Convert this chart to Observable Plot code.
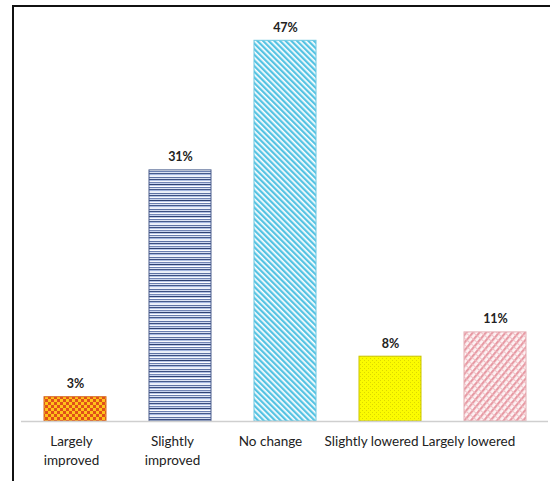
<!DOCTYPE html>
<html>
<head>
<meta charset="utf-8">
<script src="https://cdn.jsdelivr.net/npm/d3@7"></script>
<script src="https://cdn.jsdelivr.net/npm/@observablehq/plot@0.6"></script>
<style>
  html, body { margin: 0; padding: 0; background: #fff; }
  #wrap { position: relative; width: 550px; height: 481px; overflow: hidden; }
  #frame { position: absolute; left: 12px; top: 5px; width: 600px; height: 600px;
           border-left: 2px solid #111; border-top: 2px solid #111; pointer-events: none; }
</style>
</head>
<body>
<div id="wrap"><div id="frame"></div></div>
<script>
const categories = ["Largely improved", "Slightly improved", "No change", "Slightly lowered", "Largely lowered"];
const tickLabels = ["Largely\nimproved", "Slightly\nimproved", "No change", "Slightly lowered", "Largely lowered"];
const values = [3, 31, 47, 8, 11];
const patternIds = ["p-check", "p-hstripe", "p-diag", "p-dots", "p-trellis"];
const outlineColors = ["#d9661e", "#4a5d8c", "#6cc8e2", "#c9c400", "#e6b0b6"];
// the reference's category labels sit a little left of their bars
const labelShift = [-4, -8, -15, -19, -27];

const data = categories.map((c, i) => ({
  category: c, value: values[i], fill: `url(#${patternIds[i]})`, stroke: outlineColors[i]
}));

const font = "Lato, 'Open Sans', sans-serif";

const chart = Plot.plot({
  width: 550,
  height: 481,
  marginLeft: 21,
  marginRight: 2,
  marginTop: 16,
  marginBottom: 60,
  style: { fontFamily: font, background: "transparent", overflow: "visible" },
  x: { domain: categories, paddingInner: 0.41, paddingOuter: 0.2, label: null },
  y: { domain: [0, 50], axis: null },
  marks: [
    Plot.barY(data, { x: "category", y: "value", fill: "fill", stroke: "stroke", strokeWidth: 1 }),
    Plot.ruleY([0], { stroke: "#cfcfcf", strokeWidth: 1.5 }),
    Plot.text(data, { x: "category", y: "value", text: d => d.value + "%", dy: -13,
      fontSize: 12.5, fontWeight: "bold", fill: "#222" }),
    Plot.axisX({ tickSize: 0, tickPadding: 12, fontSize: 13.5, lineHeight: 1.35,
      tickFormat: d => tickLabels[categories.indexOf(d)], label: null, fill: "#222", textAnchor: "middle",
      className: "xlabels" })
  ]
});

const svg = d3.select(chart);
// nudge category labels as in the reference
svg.selectAll("[aria-label='x-axis tick label'] text").each(function (d, i) {
  const t = d3.select(this);
  const tr = t.attr("transform") || "";
  t.attr("transform", tr + ` translate(${labelShift[i] || 0},0)`);
});

const defs = svg.insert("defs", ":first-child");

// checker pattern: red-orange and yellow
const p1 = defs.append("pattern").attr("id", "p-check").attr("patternUnits", "userSpaceOnUse")
  .attr("width", 6).attr("height", 6);
p1.append("rect").attr("width", 6).attr("height", 6).attr("fill", "#ffc21a");
p1.append("rect").attr("x", 0).attr("y", 0).attr("width", 3).attr("height", 3).attr("fill", "#e0501a");
p1.append("rect").attr("x", 3).attr("y", 3).attr("width", 3).attr("height", 3).attr("fill", "#e0501a");

// horizontal blue stripes of varying shades
const p2 = defs.append("pattern").attr("id", "p-hstripe").attr("patternUnits", "userSpaceOnUse")
  .attr("width", 8).attr("height", 16);
[["#eef2fa", 0, 1], ["#5c71a3", 1, 1], ["#d4ddf1", 2, 1], ["#3c4f80", 3, 1],
 ["#aebfe2", 4, 1], ["#f6f8fc", 5, 1], ["#7487b6", 6, 1], ["#c7d3ee", 7, 1],
 ["#2f4272", 8, 1], ["#b8c7e8", 9, 1], ["#ffffff", 10, 1], ["#6a7fb0", 11, 1],
 ["#dde4f4", 12, 1], ["#455a8b", 13, 1], ["#a4b6df", 14, 1], ["#e9eef8", 15, 1]]
  .forEach(([c, y, h]) => p2.append("rect").attr("x", 0).attr("y", y).attr("width", 8).attr("height", h).attr("fill", c));

// diagonal cyan stripes "\"
const p3 = defs.append("pattern").attr("id", "p-diag").attr("patternUnits", "userSpaceOnUse")
  .attr("width", 4).attr("height", 4).attr("patternTransform", "rotate(-45)");
p3.append("rect").attr("width", 4).attr("height", 4).attr("fill", "#ffffff");
p3.append("rect").attr("x", 0).attr("y", 0).attr("width", 2.3).attr("height", 4).attr("fill", "#55c3e3");

// yellow with fine dots
const p4 = defs.append("pattern").attr("id", "p-dots").attr("patternUnits", "userSpaceOnUse")
  .attr("width", 4).attr("height", 4);
p4.append("rect").attr("width", 4).attr("height", 4).attr("fill", "#fbfb00");
p4.append("rect").attr("x", 0).attr("y", 0).attr("width", 1).attr("height", 1).attr("fill", "#dcd800");
p4.append("rect").attr("x", 2).attr("y", 2).attr("width", 1).attr("height", 1).attr("fill", "#dcd800");

// pink trellis
const p5 = defs.append("pattern").attr("id", "p-trellis").attr("patternUnits", "userSpaceOnUse")
  .attr("width", 5).attr("height", 5).attr("patternTransform", "rotate(40)");
p5.append("rect").attr("width", 5).attr("height", 5).attr("fill", "#fdf3f4");
p5.append("rect").attr("x", 0).attr("y", 0).attr("width", 2.2).attr("height", 5).attr("fill", "#e79aa4");
p5.append("rect").attr("x", 0).attr("y", 0).attr("width", 5).attr("height", 0.9).attr("fill", "#efbcc2");

document.getElementById("wrap").appendChild(chart);
chart.style.position = "absolute";
chart.style.left = "0px";
chart.style.top = "0px";
</script>
</body>
</html>
